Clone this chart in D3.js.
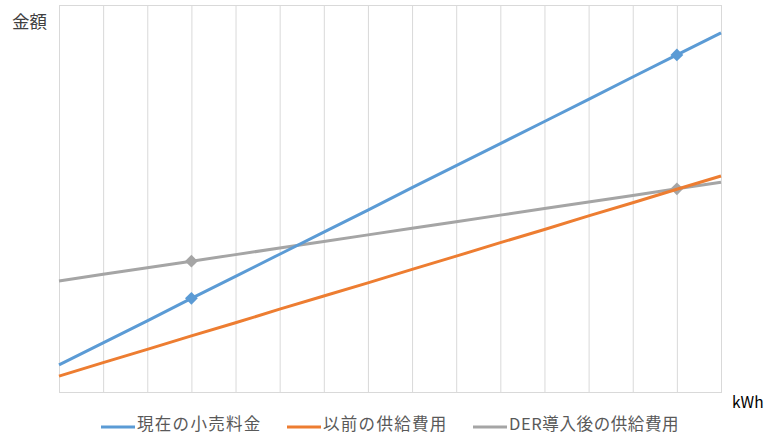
<!DOCTYPE html>
<html>
<head>
<meta charset="utf-8">
<script src="https://cdn.jsdelivr.net/npm/d3@7"></script>
<style>
  body { margin: 0; background: #fff; }
  text { font-family: "Noto Sans CJK JP", "Open Sans", sans-serif; }
</style>
</head>
<body>
<div id="chart"></div>
<script>
// categories along kWh (no labels shown in the original)
var categories = ["1","2","3","4","5","6","7","8","9","10","11","12","13","14","15","16"];

// arbitrary units (0 = axis, 100 = top of plot)
var currentRetail = [7.0, 12.7, 18.4, 24.2, 29.9, 35.6, 41.3, 47.0, 52.8, 58.5, 64.2, 69.9, 75.6, 81.4, 87.1, 92.8];
var previousSupply = [4.1, 7.6, 11.0, 14.5, 17.9, 21.4, 24.8, 28.2, 31.7, 35.1, 38.6, 42.0, 45.5, 48.9, 52.4, 55.8];
var derSupply = [28.7, 30.4, 32.1, 33.8, 35.5, 37.2, 38.9, 40.6, 42.3, 44.0, 45.7, 47.4, 49.1, 50.8, 52.5, 54.2];

// points carrying a diamond marker
var markerIdx = [3, 14];

var seriesNames = ["現在の小売料金", "以前の供給費用", "DER導入後の供給費用"];
var seriesColors = ["#5B9BD5", "#ED7D31", "#A5A5A5"];
var seriesMarkers = [true, false, true];

var margin = { top: 5, left: 59, right: 45, bottom: 43 },
    width = 766 - margin.left - margin.right,
    height = 435 - margin.top - margin.bottom;

var svg = d3.select("#chart")
    .append("svg")
    .attr("width", 766)
    .attr("height", 435);

var g = svg.append("g")
    .attr("transform", "translate(" + margin.left + "," + margin.top + ")");

var x = d3.scalePoint()
    .domain(categories)
    .range([0, width]);

var y = d3.scaleLinear()
    .domain([0, 100])
    .range([height, 0]);

// vertical gridlines on every category
g.append("g")
    .attr("transform", "translate(0," + height + ")")
    .call(d3.axisBottom(x).tickSize(-height).tickFormat(""))
    .call(function(a) {
        a.select(".domain").remove();
        a.selectAll("line").attr("stroke", "#D9D9D9").attr("stroke-width", 1);
    });

// plot border
g.append("rect")
    .attr("x", 0.5)
    .attr("y", 0.5)
    .attr("width", width)
    .attr("height", height)
    .attr("fill", "none")
    .attr("stroke", "#D9D9D9");

var allSeries = [currentRetail, previousSupply, derSupply];

var line = d3.line()
    .x(function(d, i) { return x(categories[i]); })
    .y(function(d) { return y(d); });

// draw grey first, then orange, then blue on top
[2, 1, 0].forEach(function(s) {
    g.append("path")
        .datum(allSeries[s])
        .attr("d", line)
        .attr("fill", "none")
        .attr("stroke", seriesColors[s])
        .attr("stroke-width", 3)
        .attr("stroke-linejoin", "round");

    if (seriesMarkers[s]) {
        g.selectAll(".mk" + s)
            .data(markerIdx)
            .enter().append("path")
            .attr("d", d3.symbol().type(d3.symbolDiamond2).size(105))
            .attr("transform", function(i) {
                return "translate(" + x(categories[i]) + "," + y(allSeries[s][i]) + ")";
            })
            .attr("fill", seriesColors[s]);
    }
});

// axis titles
svg.append("text")
    .attr("x", 12)
    .attr("y", 28)
    .attr("font-size", 17.5)
    .attr("fill", "#404040")
    .text("金額");

svg.append("text")
    .attr("x", 732)
    .attr("y", 408)
    .attr("font-size", 15.5)
    .attr("font-family", "Open Sans, sans-serif")
    .attr("fill", "#000")
    .text("kWh");

// legend
var legendX = [101, 287, 473];
var legend = svg.append("g");
seriesNames.forEach(function(name, s) {
    legend.append("line")
        .attr("x1", legendX[s])
        .attr("x2", legendX[s] + 34)
        .attr("y1", 427)
        .attr("y2", 427)
        .attr("stroke", seriesColors[s])
        .attr("stroke-width", 3);
    legend.append("text")
        .attr("x", legendX[s] + 36)
        .attr("y", 429.5)
        .attr("font-size", 16.5)
        .attr("letter-spacing", s === 2 ? 0.6 : 1.3)
        .attr("fill", "#595959")
        .text(name);
});
</script>
</body>
</html>
